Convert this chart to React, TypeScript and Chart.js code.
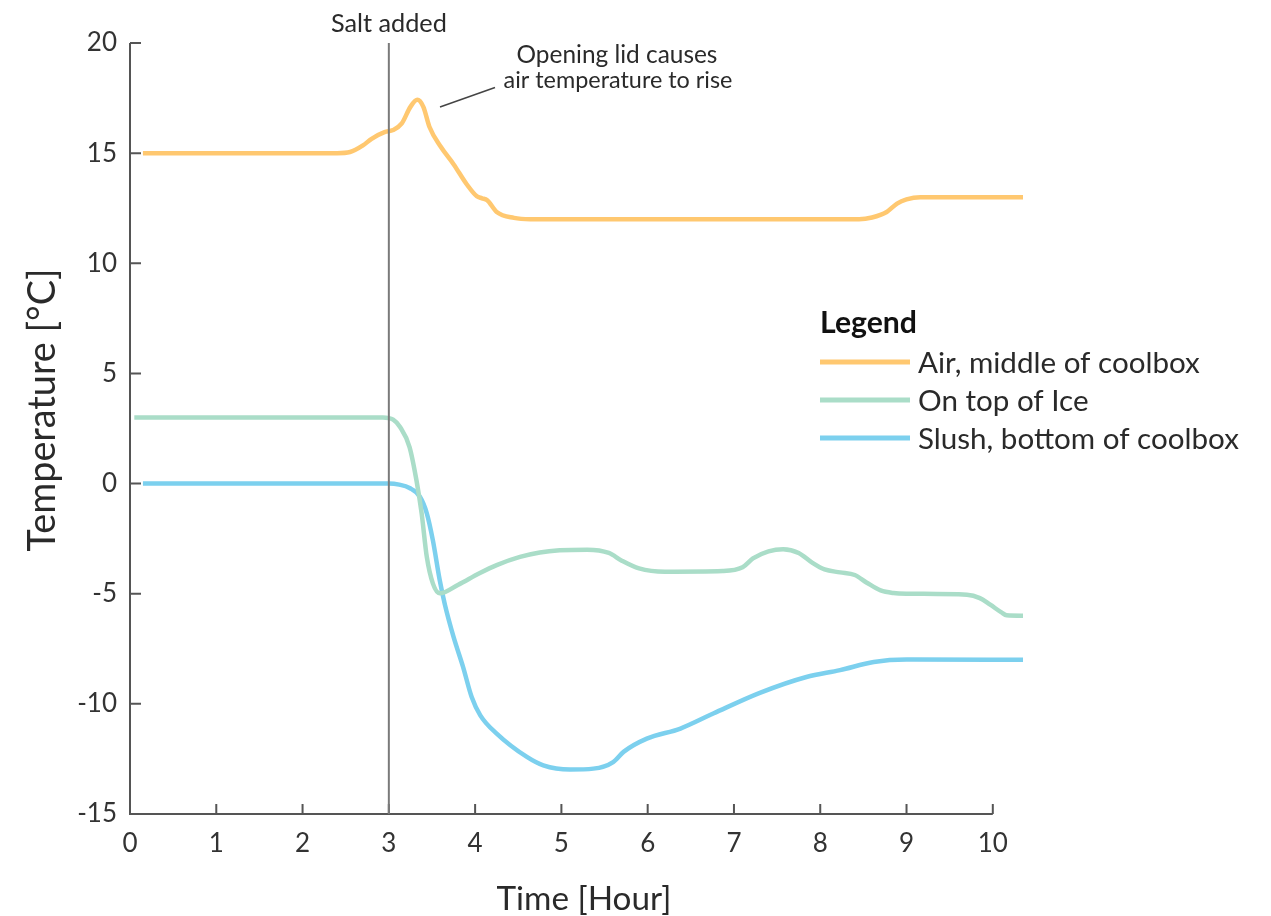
import React, { useEffect, useRef } from "react";
import { Chart, registerables } from "chart.js";

Chart.register(...registerables);

// ---------- data ----------
const xTickValues = [0, 1, 2, 3, 4, 5, 6, 7, 8, 9, 10];
const yTickValues = [-15, -10, -5, 0, 5, 10, 15, 20];

const airHours = [0.15, 2.4, 2.55, 2.7, 2.8, 2.95, 3.05, 3.15, 3.25, 3.33, 3.4, 3.47, 3.6, 3.75, 3.9, 4.02, 4.08, 4.14, 4.25, 4.45, 4.64, 8.45, 8.6, 8.77, 8.89, 9.0, 9.16, 10.36];
const airTemp = [15, 15, 15.05, 15.35, 15.65, 15.95, 16.05, 16.35, 17.1, 17.42, 17.1, 16.2, 15.3, 14.5, 13.6, 13.04, 12.95, 12.86, 12.33, 12.06, 12.0, 12.0, 12.08, 12.33, 12.71, 12.9, 13.0, 13.0];

const iceHours = [0.05, 2.93, 3.05, 3.13, 3.24, 3.32, 3.38, 3.44, 3.51, 3.59, 3.8, 4.05, 4.25, 4.52, 4.75, 4.98, 5.3, 5.55, 5.7, 5.9, 6.2, 6.87, 7.1, 7.22, 7.4, 7.57, 7.75, 7.91, 8.05, 8.23, 8.4, 8.54, 8.7, 8.85, 9.0, 9.7, 9.85, 9.97, 10.1, 10.16, 10.36];
const iceTemp = [3, 3, 2.9, 2.57, 1.66, 0.15, -1.35, -3.33, -4.53, -4.98, -4.6, -4.07, -3.7, -3.33, -3.13, -3.03, -3.0, -3.15, -3.5, -3.85, -4.0, -3.97, -3.8, -3.4, -3.08, -2.98, -3.15, -3.6, -3.9, -4.03, -4.15, -4.5, -4.85, -4.97, -5.0, -5.05, -5.2, -5.5, -5.85, -5.98, -6.0];

const slushHours = [0.15, 3.0, 3.12, 3.24, 3.36, 3.44, 3.51, 3.59, 3.65, 3.75, 3.86, 3.96, 4.06, 4.25, 4.6, 4.79, 5.1, 5.37, 5.6, 5.72, 5.99, 6.38, 6.76, 7.3, 7.84, 8.23, 8.62, 9.0, 10.36];
const slushTemp = [0, 0, -0.05, -0.2, -0.6, -1.35, -2.57, -4.39, -5.5, -6.96, -8.32, -9.69, -10.52, -11.35, -12.41, -12.79, -12.98, -12.94, -12.64, -12.18, -11.58, -11.12, -10.44, -9.5, -8.78, -8.47, -8.1, -7.99, -8.0];

const seriesLabels = ["Air, middle of coolbox", "On top of Ice", "Slush, bottom of coolbox"];
const seriesColors = ["#FFC870", "#AADDC8", "#7CD0EE"];

const saltHour = 3;
const saltLabel = "Salt added";
const noteLines = ["Opening lid causes", "air temperature to rise"];
const legendTitle = "Legend";
const xAxisTitle = "Time [Hour]";
const yAxisTitle = "Temperature [°C]";

// ---------- styles ----------
const FONT = "Lato, 'Noto Sans', sans-serif";
const AXIS_COLOR = "#555555";
const TEXT_COLOR = "#2a2a2a";

function fitSize(ctx: CanvasRenderingContext2D, text: string, width: number, weight: string) {
  ctx.font = `${weight} 100px ${FONT}`;
  const w = ctx.measureText(text).width;
  return (100 * width) / w;
}

function drawFitted(
  ctx: CanvasRenderingContext2D,
  text: string,
  x: number,
  y: number,
  width: number,
  align: CanvasTextAlign,
  weight = "400",
  color = TEXT_COLOR
) {
  const size = fitSize(ctx, text, width, weight);
  ctx.font = `${weight} ${size}px ${FONT}`;
  ctx.fillStyle = color;
  ctx.textAlign = align;
  ctx.textBaseline = "alphabetic";
  ctx.fillText(text, x, y);
}

const decorPlugin = {
  id: "decor",
  beforeDatasetsDraw(chart: any) {
    const ctx: CanvasRenderingContext2D = chart.ctx;
    const xs = chart.scales.x;
    const ys = chart.scales.y;
    const left = xs.getPixelForValue(0);
    const right = xs.getPixelForValue(xTickValues[xTickValues.length - 1]);
    const top = ys.getPixelForValue(yTickValues[yTickValues.length - 1]);
    const bottom = ys.getPixelForValue(yTickValues[0]);
    ctx.save();
    ctx.strokeStyle = AXIS_COLOR;
    ctx.lineWidth = 2;
    ctx.lineCap = "butt";
    ctx.beginPath();
    ctx.moveTo(left, top);
    ctx.lineTo(left, bottom);
    ctx.lineTo(right, bottom);
    for (const v of yTickValues) {
      const py = ys.getPixelForValue(v);
      ctx.moveTo(left, py);
      ctx.lineTo(left + 11, py);
    }
    for (const v of xTickValues) {
      const px = xs.getPixelForValue(v);
      ctx.moveTo(px, bottom);
      ctx.lineTo(px, bottom - 10);
    }
    ctx.stroke();
    ctx.restore();
  },
  afterDatasetsDraw(chart: any) {
    const ctx: CanvasRenderingContext2D = chart.ctx;
    const xs = chart.scales.x;
    const ys = chart.scales.y;
    const sx = xs.getPixelForValue(saltHour);
    const top = ys.getPixelForValue(yTickValues[yTickValues.length - 1]);
    const bottom = ys.getPixelForValue(yTickValues[0]);
    ctx.save();
    // salt line
    ctx.strokeStyle = "#7a7a7a";
    ctx.lineWidth = 2;
    ctx.beginPath();
    ctx.moveTo(sx, top);
    ctx.lineTo(sx, bottom);
    ctx.stroke();
    drawFitted(ctx, saltLabel, sx, 32, 116, "center");

    // note
    drawFitted(ctx, noteLines[0], 617, 63, 201, "center");
    drawFitted(ctx, noteLines[1], 618, 88, 229, "center");
    ctx.strokeStyle = "#444";
    ctx.lineWidth = 1.5;
    ctx.beginPath();
    ctx.moveTo(440, 107);
    ctx.lineTo(495, 87.5);
    ctx.stroke();

    // legend
    drawFitted(ctx, legendTitle, 820, 333, 97, "left", "700", "#111");
    const itemSize = fitSize(ctx, seriesLabels[2], 321, "400");
    const rowY = [362, 400, 438];
    seriesLabels.forEach((lab, i) => {
      ctx.strokeStyle = seriesColors[i];
      ctx.lineWidth = 5;
      ctx.beginPath();
      ctx.moveTo(820, rowY[i]);
      ctx.lineTo(910, rowY[i]);
      ctx.stroke();
      ctx.font = `400 ${itemSize}px ${FONT}`;
      ctx.fillStyle = TEXT_COLOR;
      ctx.textAlign = "left";
      ctx.textBaseline = "alphabetic";
      ctx.fillText(lab, 918, rowY[i] + 11);
    });

    // axis titles
    drawFitted(ctx, xAxisTitle, 584, 910, 175, "center");
    ctx.translate(55, 410);
    ctx.rotate(-Math.PI / 2);
    drawFitted(ctx, yAxisTitle, 0, 0, 283, "center");
    ctx.restore();
  },
};

function toPoints(xs: number[], ys: number[]) {
  return xs.map((x, i) => ({ x, y: ys[i] }));
}

export default function App() {
  const ref = useRef<HTMLCanvasElement | null>(null);
  useEffect(() => {
    document.body.style.margin = "0";
    const canvas = ref.current!;
    const datasets = [
      toPoints(airHours, airTemp),
      toPoints(iceHours, iceTemp),
      toPoints(slushHours, slushTemp),
    ].map((data, i) => ({
      label: seriesLabels[i],
      data,
      borderColor: seriesColors[i],
      backgroundColor: seriesColors[i],
      borderWidth: 4.5,
      pointRadius: 0,
      pointHoverRadius: 0,
      cubicInterpolationMode: "monotone" as const,
      fill: false,
    }));
    const chart = new Chart(canvas, {
      type: "line",
      data: { datasets },
      options: {
        animation: false,
        responsive: false,
        devicePixelRatio: 1,
        layout: { padding: { top: 43, right: 248, left: 0, bottom: 0 } },
        plugins: { legend: { display: false }, tooltip: { enabled: false } },
        scales: {
          x: {
            type: "linear",
            min: 0,
            max: 10.35,
            afterBuildTicks: (s: any) => {
              s.ticks = xTickValues.map((v) => ({ value: v }));
            },
            afterFit: (s: any) => {
              s.height = 102;
            },
            grid: { display: false, drawTicks: false },
            border: { display: false },
            ticks: {
              autoSkip: false,
              maxRotation: 0,
              padding: 14,
              color: "#333",
              font: { family: FONT, size: 26 },
              callback: (v: any) => String(v),
            },
          },
          y: {
            type: "linear",
            min: -15,
            max: 20,
            afterBuildTicks: (s: any) => {
              s.ticks = yTickValues.map((v) => ({ value: v }));
            },
            afterFit: (s: any) => {
              s.width = 130;
            },
            grid: { display: false, drawTicks: false },
            border: { display: false },
            ticks: {
              padding: 13,
              color: "#333",
              font: { family: FONT, size: 26 },
              callback: (v: any) => String(v),
            },
          },
        },
      },
      plugins: [decorPlugin],
    });
    return () => chart.destroy();
  }, []);
  return <canvas ref={ref} width={1271} height={916} style={{ display: "block" }} />;
}
